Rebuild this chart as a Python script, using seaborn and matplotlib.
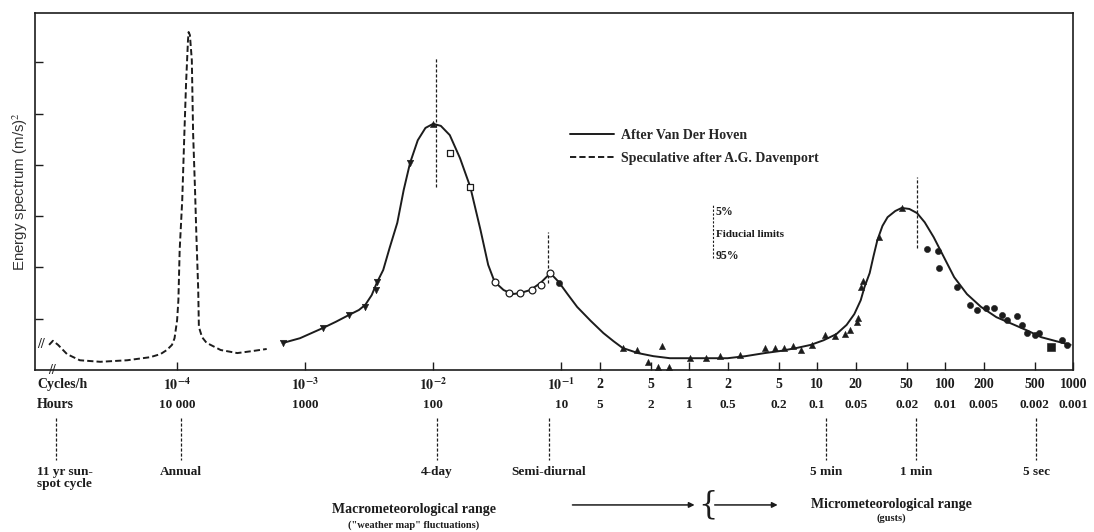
import numpy as np
import matplotlib
matplotlib.use("Agg")
import matplotlib.pyplot as plt
import matplotlib.transforms as mtransforms
import seaborn as sns

# Curvas (log10 de la frecuencia en ciclos/h, energía en unidades del eje)
dav_logf = [-5.00, -4.97, -4.93, -4.86, -4.76, -4.60, -4.39, -4.21, -4.13, -4.08,
            -4.04, -4.02, -4.00, -3.99, -3.98, -3.96, -3.945, -3.93, -3.915, -3.91,
            -3.90, -3.885, -3.875, -3.86, -3.85, -3.835, -3.83, -3.805, -3.77, -3.66,
            -3.53, -3.41, -3.30]
dav_e = [0.49, 0.57, 0.49, 0.31, 0.19, 0.16, 0.19, 0.25, 0.31, 0.39,
         0.49, 0.62, 0.97, 1.36, 2.34, 3.31, 4.48, 5.59, 6.43, 6.59,
         6.53, 6.04, 4.62, 3.51, 2.67, 1.56, 0.84, 0.64, 0.53, 0.39,
         0.33, 0.37, 0.41]

vdh_logf = [-3.17, -3.04, -2.86, -2.76, -2.66, -2.58, -2.53, -2.48, -2.44, -2.39,
            -2.34, -2.28, -2.23, -2.18, -2.12, -2.06, -2.00, -1.94, -1.87, -1.79,
            -1.71, -1.63, -1.57, -1.52, -1.45, -1.38, -1.32, -1.24, -1.16, -1.10,
            -1.07, -1.02, -0.95, -0.875, -0.77, -0.67, -0.59, -0.52, -0.40, -0.28,
            -0.15, -0.02, 0.14, 0.30, 0.44, 0.59, 0.71, 0.84, 0.95, 1.05,
            1.15, 1.23, 1.29, 1.34, 1.37, 1.41, 1.44, 1.47, 1.51, 1.55,
            1.61, 1.66, 1.72, 1.78, 1.84, 1.91, 1.99, 2.07, 2.17, 2.28,
            2.40, 2.54, 2.65, 2.75, 2.87, 2.98]
vdh_e = [0.53, 0.62, 0.82, 0.94, 1.07, 1.17, 1.27, 1.46, 1.70, 1.95,
         2.38, 2.87, 3.51, 4.04, 4.48, 4.72, 4.80, 4.76, 4.58, 4.13,
         3.57, 2.73, 2.05, 1.72, 1.56, 1.48, 1.50, 1.56, 1.70, 1.85,
         1.85, 1.72, 1.48, 1.23, 0.96, 0.72, 0.56, 0.43, 0.33, 0.27,
         0.23, 0.23, 0.23, 0.23, 0.27, 0.33, 0.37, 0.43, 0.49, 0.58,
         0.70, 0.88, 1.09, 1.36, 1.62, 1.89, 2.22, 2.53, 2.81, 2.98,
         3.10, 3.16, 3.14, 3.06, 2.88, 2.59, 2.20, 1.81, 1.48, 1.23,
         1.03, 0.88, 0.76, 0.64, 0.56, 0.49]

# Puntos medidos
tri_down_logf = [-3.17, -2.86, -2.66, -2.53, -2.45, -2.44, -2.18]
tri_down_e = [0.53, 0.82, 1.07, 1.23, 1.56, 1.72, 4.04]
sq_open_logf = [-1.87, -1.71]
sq_open_e = [4.23, 3.57]
circ_open_logf = [-1.52, -1.41, -1.32, -1.23, -1.16, -1.09]
circ_open_e = [1.72, 1.50, 1.50, 1.56, 1.66, 1.89]
tri_up_logf = [-2.00, -0.52, -0.41, -0.32, -0.24, -0.16, -0.21, 0.01, 0.13, 0.24,
               0.40, 0.59, 0.67, 0.74, 0.81, 0.87, 0.96, 1.06, 1.14, 1.22,
               1.26, 1.31, 1.32, 1.34, 1.36, 1.48, 1.66]
tri_up_e = [4.80, 0.43, 0.39, 0.16, 0.06, 0.06, 0.47, 0.23, 0.23, 0.27,
            0.29, 0.43, 0.43, 0.43, 0.47, 0.39, 0.49, 0.68, 0.66, 0.70,
            0.78, 0.94, 1.01, 1.62, 1.73, 2.59, 3.16]
circ_fill_logf = [-1.02, 1.86, 1.94, 1.95, 2.09, 2.19, 2.25, 2.32, 2.38, 2.44,
                  2.48, 2.56, 2.60, 2.64, 2.70, 2.73, 2.91, 2.95]
circ_fill_e = [1.70, 2.36, 2.32, 1.99, 1.62, 1.27, 1.17, 1.21, 1.21, 1.07,
               0.97, 1.05, 0.88, 0.72, 0.68, 0.72, 0.58, 0.49]
sq_fill_logf = [2.83]
sq_fill_e = [0.45]

# Ejes: ticks y etiquetas
tick_f = [1e-4, 1e-3, 1e-2, 0.1, 0.2, 0.5, 1, 2, 5, 10, 20, 50, 100, 200, 500, 1000]
tick_cycles = [r'$\mathbf{10^{-4}}$', r'$\mathbf{10^{-3}}$', r'$\mathbf{10^{-2}}$',
               r'$\mathbf{10^{-1}}$', '2', '5', '1', '2',
               '5', '10', '20', '50', '100', '200', '500', '1000']
tick_hours = ['10 000', '1000', '100', '10', '5', '2', '1', '0.5', '0.2', '0.1',
              '0.05', '0.02', '0.01', '0.005', '0.002', '0.001']

# Periodos señalados debajo del eje
event_f = [1.13e-5, 1.07e-4, 1.07e-2, 8.05e-2, 11.7, 59.0, 513.0]
event_labels = ['11 yr sun-\nspot cycle', 'Annual', '4-day', 'Semi-diurnal',
                '5 min', '1 min', '5 sec']

# Picos marcados dentro del gráfico (frecuencia, energía baja, energía alta)
peak_f = [1.05e-2, 7.9e-2, 60.0]
peak_lo = [3.57, 1.70, 2.38]
peak_hi = [6.10, 2.69, 3.76]

sns.set_style('white')
plt.rcParams['font.family'] = ['Liberation Serif', 'DejaVu Serif']
plt.rcParams['mathtext.fontset'] = 'stix'

ink = '#1c1c1c'
fig = plt.figure(figsize=(10.94, 5.32), dpi=100)
ax = fig.add_axes([0.032, 0.3045, 0.949, 0.671])
ax.set_xscale('log')

sns.lineplot(x=10 ** np.array(dav_logf), y=dav_e, sort=False, estimator=None, ax=ax,
             color=ink, linewidth=1.4, linestyle=(0, (3.2, 1.6)),
             label='Speculative after A.G. Davenport')
sns.lineplot(x=10 ** np.array(vdh_logf), y=vdh_e, sort=False, estimator=None, ax=ax,
             color=ink, linewidth=1.4, label='After Van Der Hoven')

sns.scatterplot(x=10 ** np.array(tri_down_logf), y=tri_down_e, marker='v', s=22,
                color=ink, edgecolor=ink, ax=ax, legend=False, zorder=3)
sns.scatterplot(x=10 ** np.array(tri_up_logf), y=tri_up_e, marker='^', s=20,
                color=ink, edgecolor=ink, ax=ax, legend=False, zorder=3)
sns.scatterplot(x=10 ** np.array(sq_open_logf), y=sq_open_e, marker='s', s=22,
                color='white', edgecolor=ink, linewidth=0.9, ax=ax, legend=False, zorder=3)
sns.scatterplot(x=10 ** np.array(circ_open_logf), y=circ_open_e, marker='o', s=24,
                color='white', edgecolor=ink, linewidth=0.9, ax=ax, legend=False, zorder=3)
sns.scatterplot(x=10 ** np.array(circ_fill_logf), y=circ_fill_e, marker='o', s=20,
                color=ink, edgecolor=ink, ax=ax, legend=False, zorder=3)
sns.scatterplot(x=10 ** np.array(sq_fill_logf), y=sq_fill_e, marker='s', s=28,
                color=ink, edgecolor=ink, ax=ax, legend=False, zorder=3)

for f, lo, hi in zip(peak_f, peak_lo, peak_hi):
    ax.plot([f, f], [lo, hi], color=ink, linewidth=0.9, linestyle=(0, (2.5, 1.5)))

ax.set_xlim(10 ** -5.11, 10 ** 3.0)
ax.set_ylim(0, 6.96)
ax.set_xticks(tick_f)
ax.set_xticklabels([])
ax.xaxis.set_minor_locator(matplotlib.ticker.NullLocator())
ax.set_yticks([1, 2, 3, 4, 5, 6])
ax.set_yticklabels([])
ax.tick_params(axis='both', direction='in', length=6, width=1.0, color=ink,
               top=False, right=False, bottom=True, left=True)
for sp in ax.spines.values():
    sp.set_color(ink)
    sp.set_linewidth(1.2)
ax.set_ylabel('Energy spectrum (m/s)$^2$', family='Liberation Sans', fontsize=10.8,
              color='#333333')
ax.yaxis.set_label_coords(-0.0045, 0.50)

# Leyenda (línea continua primero)
handles, labels = ax.get_legend_handles_labels()
ax.legend(handles[::-1], labels[::-1], loc='upper left', bbox_to_anchor=(0.515, 0.675),
          frameon=False, handlelength=3.2, handletextpad=0.5, labelspacing=0.7,
          borderpad=0, borderaxespad=0,
          prop={'family': 'Liberation Serif', 'weight': 'bold', 'size': 10})

# Límites fiduciales
ax.plot([1.54, 1.54], [2.18, 3.22], color=ink, linewidth=0.8, linestyle=(0, (2, 1.5)))
ax.text(1.62, 3.08, '5%', fontsize=8.5, fontweight='bold', va='center', color=ink)
ax.text(1.62, 2.65, 'Fiducial limits', fontsize=8, fontweight='bold', va='center', color=ink)
ax.text(1.62, 2.22, '95%', fontsize=8.5, fontweight='bold', va='center', color=ink)

# Marcas de corte del eje
ax.text(10 ** -5.06, 0.5, '//', fontsize=10, fontweight='bold', ha='center', va='center',
        color=ink)
ax.text(10 ** -4.98, 0.0, '//', fontsize=10, fontweight='bold', ha='center', va='center',
        color=ink, clip_on=False)

# Etiquetas del eje x en dos filas
trans = mtransforms.blended_transform_factory(ax.transData, ax.transAxes)
for f, c, h in zip(tick_f, tick_cycles, tick_hours):
    ax.text(f, -0.042, c, transform=trans, ha='center', va='center', fontsize=10,
            fontweight='bold', color=ink)
    ax.text(f, -0.098, h, transform=trans, ha='center', va='center', fontsize=9.5,
            fontweight='bold', color=ink)
ax.text(0.002, -0.042, 'Cycles/h', transform=ax.transAxes, ha='left', va='center',
        fontsize=10, fontweight='bold', color=ink)
ax.text(0.002, -0.098, 'Hours', transform=ax.transAxes, ha='left', va='center',
        fontsize=10, fontweight='bold', color=ink)

# Periodos característicos
for f, lab in zip(event_f, event_labels):
    ax.plot([f, f], [-0.134, -0.252], transform=trans, clip_on=False, color=ink,
            linewidth=0.9, linestyle=(0, (2.5, 1.5)))
    if lab.startswith('11'):
        ax.text(0.002, -0.268, lab, transform=ax.transAxes, ha='left', va='top',
                fontsize=9.5, fontweight='bold', color=ink, linespacing=1.0)
    else:
        ax.text(f, -0.286, lab, transform=trans, ha='center', va='center', fontsize=9.5,
                fontweight='bold', color=ink)

# Rangos macro y micrometeorológicos
ax.text(0.365, -0.392, 'Macrometeorological range', transform=ax.transAxes, ha='center',
        va='center', fontsize=10, fontweight='bold', color=ink)
ax.text(0.365, -0.436, '("weather map" fluctuations)', transform=ax.transAxes,
        ha='center', va='center', fontsize=7.5, fontweight='bold', color=ink)
ax.annotate('', xy=(0.638, -0.378), xytext=(0.515, -0.378), xycoords='axes fraction',
            arrowprops=dict(arrowstyle='-|>', color=ink, lw=1.1, mutation_scale=8))
ax.text(0.648, -0.378, '{', transform=ax.transAxes, ha='center', va='center',
        fontsize=22, color=ink, family='DejaVu Serif', fontweight='light')
ax.annotate('', xy=(0.718, -0.378), xytext=(0.652, -0.378), xycoords='axes fraction',
            arrowprops=dict(arrowstyle='-|>', color=ink, lw=1.1, mutation_scale=8))
ax.text(0.825, -0.378, 'Micrometeorological range', transform=ax.transAxes, ha='center',
        va='center', fontsize=10, fontweight='bold', color=ink)
ax.text(0.825, -0.415, '(gusts)', transform=ax.transAxes, ha='center', va='center',
        fontsize=7.5, fontweight='bold', color=ink)

fig.savefig('out.png', dpi=100)
